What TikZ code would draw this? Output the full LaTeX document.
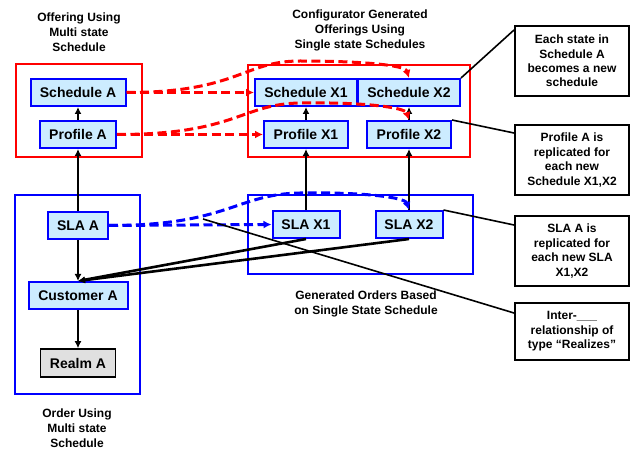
\documentclass[tikz,border=0pt]{standalone}
\usepackage{fontspec}
\setmainfont{Liberation Sans}
\usetikzlibrary{arrows.meta}
\definecolor{itemfill}{RGB}{204,236,255}
\definecolor{realmfill}{RGB}{224,224,224}
\begin{document}
\begin{tikzpicture}[x=1pt,y=-1pt,
  item/.style={draw=blue,line width=2pt,fill=itemfill,minimum height=27pt,
    inner sep=0pt,font=\fontsize{14}{16}\selectfont\bfseries},
  realm/.style={item,draw=black,line width=1.6pt,fill=realmfill,minimum height=28pt},
  redframe/.style={draw=red,line width=2pt},
  blueframe/.style={draw=blue,line width=2pt},
  note/.style={draw=black,line width=2pt,fill=white,minimum width=114pt,inner sep=0pt,
    align=center,font=\fontsize{12}{14.4}\selectfont\bfseries},
  caption/.style={align=center,font=\fontsize{12}{15}\selectfont\bfseries},
  flow/.style={draw=black,line width=2.6pt,-{Latex[length=7pt,width=7pt]}},
  copyred/.style={draw=red,line width=3pt,dash pattern=on 9pt off 4.5pt,
    -{Latex[length=8pt,width=8pt]}},
  copyblue/.style={copyred,draw=blue},
  callout/.style={draw=black,line width=1.6pt},
]
\useasboundingbox (0,0) rectangle (630,449);

% containers
\draw[redframe]  (16,64)   rectangle (142,157);
\draw[redframe]  (248,65)  rectangle (470,157);
\draw[blueframe] (15,195)  rectangle (140,394);
\draw[blueframe] (248,195) rectangle (473,274);

% captions
\node[caption] (capOffer) at (79,32)  {Offering Using\\Multi state\\Schedule};
\node[caption] (capConf)  at (360,30) {Configurator Generated\\Offerings Using\\Single state Schedules};
\node[caption] (capGen)   at (366,304){Generated Orders Based\\on Single State Schedule};
\node[caption] (capOrder) at (77,428) {Order Using\\Multi state\\Schedule};

% multi state side
\node[item,minimum width=95pt] (schA)  at (78,92.5)  {Schedule A};
\node[item,minimum width=76pt] (profA) at (78,134.5) {Profile A};
\node[item,minimum width=60pt] (slaA)  at (78,225.5) {SLA A};
\node[item,minimum width=99pt] (custA) at (78,295.5) {Customer A};
\node[realm,minimum width=75pt] (realmA) at (78,363) {Realm A};

% single state side
\node[item,minimum width=102pt] (schX1)  at (306,92.5)  {Schedule X1};
\node[item,minimum width=102pt] (schX2)  at (409,92.5)  {Schedule X2};
\node[item,minimum width=84pt]  (profX1) at (306,134.5) {Profile X1};
\node[item,minimum width=84pt]  (profX2) at (409,134.5) {Profile X2};
\node[item,minimum width=67pt]  (slaX1)  at (306,224.5) {SLA X1};
\node[item,minimum width=67pt]  (slaX2)  at (409,224.5) {SLA X2};

% notes
\node[note,minimum height=70pt] (n1) at (572,61)    {Each state in\\Schedule A\\becomes a new\\schedule};
\node[note,minimum height=70pt] (n2) at (572,160)   {Profile A is\\replicated for\\each new\\Schedule X1,X2};
\node[note,minimum height=70pt] (n3) at (572,251)   {SLA A is\\replicated for\\each new SLA\\X1,X2};
\node[note,minimum height=57pt] (n4) at (572,331.5) {Inter-\_\_\_\\relationship of\\type \textquotedblleft Realizes\textquotedblright};

% realizes relationships
\draw[flow] (profA) -- (schA);
\draw[flow] (slaA) -- (profA);
\draw[flow] (slaA) -- (custA);
\draw[flow] (custA) -- (realmA);
\draw[flow] (profX1) -- (schX1);
\draw[flow] (profX2) -- (schX2);
\draw[flow] (slaX1) -- (profX1);
\draw[flow] (slaX2) -- (profX2);
\draw[flow] (slaX1.south) -- (custA.north);
\draw[flow] (slaX2.south) -- (custA.north);

% replication
\draw[copyred] (schA.east) -- (schX1.west);
\draw[copyred] (schA.east) .. controls (238,92.5) and (243,61) .. (300,61)
  .. controls (360,61) and (405,65) .. (schX2.north);
\draw[copyred] (profA.east) -- (profX1.west);
\draw[copyred] (profA.east) .. controls (236,134.5) and (241,104) .. (300,103)
  .. controls (360,102) and (405,107) .. (profX2.north);
\draw[copyblue] (slaA.east) -- (slaX1.west);
\draw[copyblue] (slaA.east) .. controls (228,225.5) and (236,194) .. (300,193)
  .. controls (360,192) and (405,197) .. (slaX2.north);

% callouts
\coordinate (rel) at (203,219);
\draw[callout] (schX2.north east) -- ([yshift=-5pt]n1.north west);
\draw[callout] (profX2.north east) -- ([yshift=-9pt]n2.north west);
\draw[callout] (slaX2.north east) -- ([yshift=-10pt]n3.north west);
\draw[callout] (rel) -- ([yshift=-11pt]n4.north west);
\end{tikzpicture}
\end{document}
